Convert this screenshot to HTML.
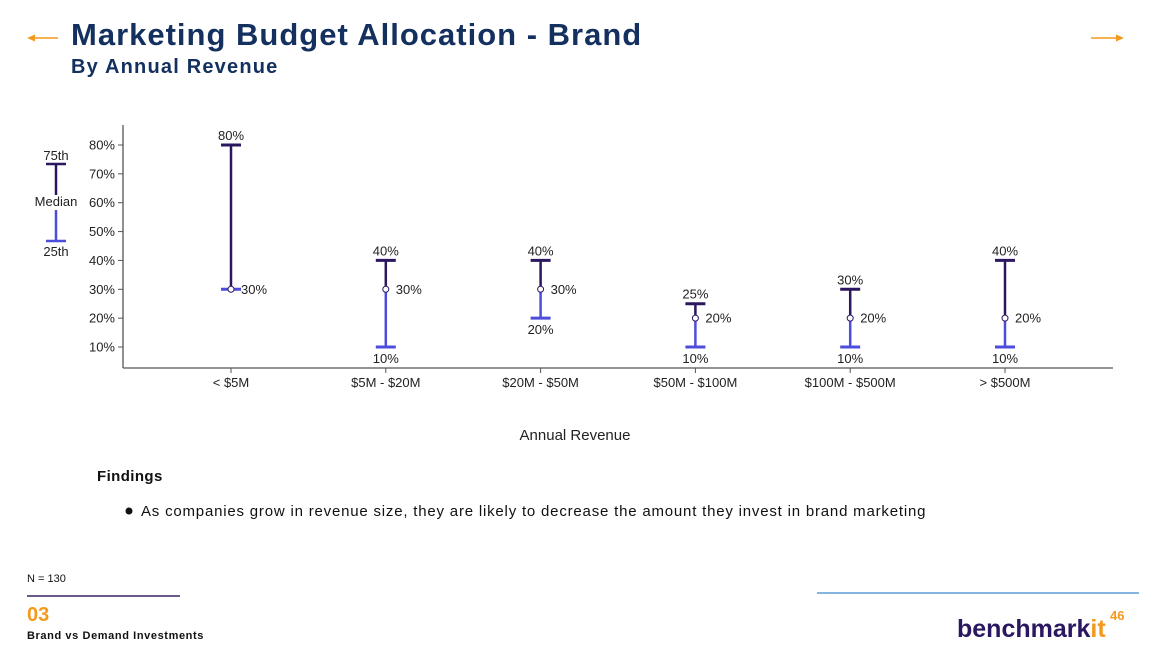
<!DOCTYPE html>
<html><head><meta charset="utf-8"><style>
body{margin:0;width:1154px;height:646px;background:#fff;position:relative;overflow:hidden;font-family:"Liberation Sans",sans-serif}
.abs{position:absolute}
</style></head><body>
<svg class="abs" style="left:0;top:0" width="1154" height="646">
  <g><line x1="29" y1="38" x2="58" y2="38" stroke="#f39a1e" stroke-width="1.5"/><polygon points="27,38 35,34.5 35,41.5" fill="#f39a1e"/></g>
  <g><line x1="1091" y1="38" x2="1120" y2="38" stroke="#f39a1e" stroke-width="1.5"/><polygon points="1124,38 1116,34.5 1116,41.5" fill="#f39a1e"/></g>
  <text x="71" y="45" font-size="31" font-weight="bold" fill="#13305e" letter-spacing="1">Marketing Budget Allocation - Brand</text>
  <text x="71" y="73" font-size="20" font-weight="bold" fill="#13305e" letter-spacing="1.2">By Annual Revenue</text>
  <g id="chart"></g>
  <text x="575" y="440" font-size="15" text-anchor="middle" fill="#222">Annual Revenue</text>
  <text x="97" y="481" font-size="15" font-weight="bold" fill="#111" letter-spacing="0.4">Findings</text>
  <circle cx="129" cy="511" r="3.5" fill="#111"/>
  <text x="141" y="516" font-size="15" fill="#111" letter-spacing="0.8">As companies grow in revenue size, they are likely to decrease the amount they invest in brand marketing</text>
  <text x="27" y="582" font-size="11" fill="#111">N = 130</text>
  <line x1="27" y1="596" x2="180" y2="596" stroke="#6a5a8a" stroke-width="2"/>
  <text x="27" y="621" font-size="20" font-weight="bold" fill="#f39a1e">03</text>
  <text x="27" y="639" font-size="11" font-weight="bold" fill="#111" letter-spacing="0.6">Brand vs Demand Investments</text>
  <line x1="817" y1="593" x2="1139" y2="593" stroke="#5b9bd5" stroke-width="1.5"/>
  <text x="957" y="637" font-size="25" font-weight="bold" fill="#2a1760">benchmark<tspan fill="#f39a1e">it</tspan></text>
  <text x="1110" y="620" font-size="13" font-weight="bold" fill="#f39a1e">46</text>
</svg>
<script>
const categories=["< $5M","$5M - $20M","$20M - $50M","$50M - $100M","$100M - $500M","> $500M"];
const p25=[30,10,20,10,10,10];
const median=[30,30,30,20,20,20];
const p75=[80,40,40,25,30,40];
const yTicks=[10,20,30,40,50,60,70,80];
const NS="http://www.w3.org/2000/svg";
const g=document.getElementById('chart');
const DARK="#2b1760",BLUE="#4d4ddb";
function y(v){return 347-(v-10)*(202/70);}
function x(i){return 231+i*154.8;}
function el(t,a,txt){const e=document.createElementNS(NS,t);for(const k in a)e.setAttribute(k,a[k]);if(txt!==undefined)e.textContent=txt;g.appendChild(e);return e;}
let e;
e=el('line',{x1:123,y1:125,x2:123,y2:368,stroke:'#555','stroke-width':1.3});

e=el('line',{x1:123,y1:368,x2:1113,y2:368,stroke:'#555','stroke-width':1.3});

yTicks.forEach(t=>{
  e=el('line',{x1:118,y1:y(t),x2:123,y2:y(t),stroke:'#555'});
  
  e=el('text',{x:115,y:y(t)+4.5,'font-size':13,'text-anchor':'end',fill:'#222'},t+'%');
  
});
categories.forEach((c,i)=>{
  const cx=x(i);
  e=el('line',{x1:cx,y1:368,x2:cx,y2:373,stroke:'#555'});
  
  e=el('text',{x:cx,y:387,'font-size':13,'text-anchor':'middle',fill:'#222'},c);
  
  e=el('line',{x1:cx,y1:y(median[i]),x2:cx,y2:y(p25[i]),stroke:BLUE,'stroke-width':2.5});
  
  e=el('line',{x1:cx,y1:y(p75[i]),x2:cx,y2:y(median[i]),stroke:DARK,'stroke-width':2.5});
  
  e=el('line',{x1:cx-10,y1:y(p25[i]),x2:cx+10,y2:y(p25[i]),stroke:BLUE,'stroke-width':3});
  
  e=el('line',{x1:cx-10,y1:y(p75[i]),x2:cx+10,y2:y(p75[i]),stroke:DARK,'stroke-width':3});
  
  e=el('circle',{cx:cx,cy:y(median[i]),r:3,fill:'#fff',stroke:DARK,'stroke-width':1});
  
  e=el('text',{x:cx,y:y(p75[i])-5,'font-size':13,'text-anchor':'middle',fill:'#222'},p75[i]+'%');
  
  e=el('text',{x:cx+10,y:y(median[i])+4.5,'font-size':13,fill:'#222'},median[i]+'%');
  
  if(p25[i]!==median[i]){
    e=el('text',{x:cx,y:y(p25[i])+16,'font-size':13,'text-anchor':'middle',fill:'#222'},p25[i]+'%');
    
  }
});
const lx=56;
e=el('text',{x:lx,y:160,'font-size':13,'text-anchor':'middle',fill:'#222'},'75th');

e=el('line',{x1:lx-10,y1:164,x2:lx+10,y2:164,stroke:DARK,'stroke-width':2.5});

e=el('line',{x1:lx,y1:164,x2:lx,y2:195,stroke:DARK,'stroke-width':2.5});

e=el('text',{x:lx,y:206,'font-size':13,'text-anchor':'middle',fill:'#222'},'Median');

e=el('line',{x1:lx,y1:210,x2:lx,y2:241,stroke:BLUE,'stroke-width':2.5});

e=el('line',{x1:lx-10,y1:241,x2:lx+10,y2:241,stroke:BLUE,'stroke-width':2.5});

e=el('text',{x:lx,y:256,'font-size':13,'text-anchor':'middle',fill:'#222'},'25th');

</script>
</body></html>
